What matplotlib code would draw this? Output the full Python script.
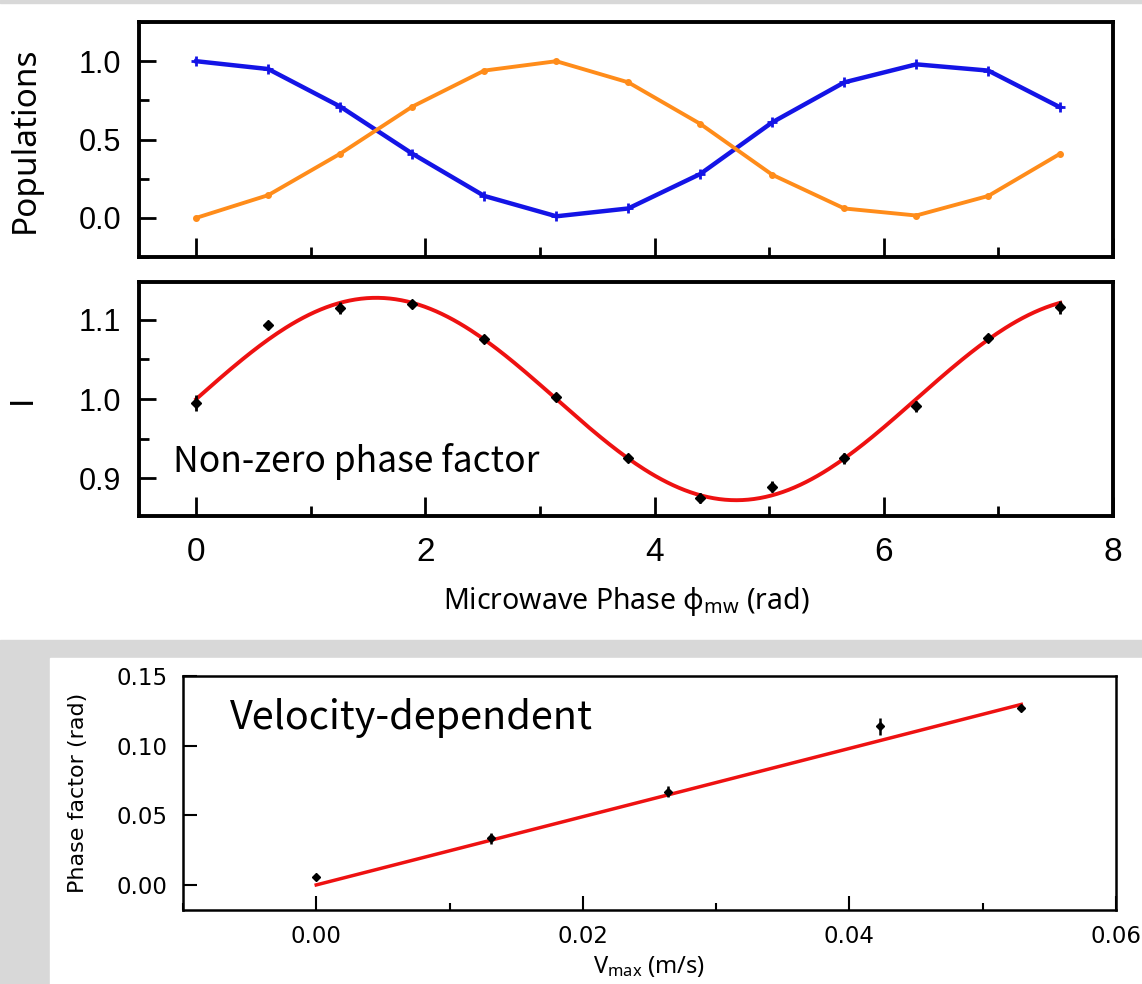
import numpy as np
import matplotlib
matplotlib.use("Agg")
import matplotlib.pyplot as plt
from matplotlib import font_manager
from matplotlib.patches import Rectangle
from matplotlib.ticker import MultipleLocator

plt.rcParams['mathtext.fontset'] = 'custom'
plt.rcParams['mathtext.rm'] = 'Noto Sans'
plt.rcParams['mathtext.it'] = 'Noto Sans'

# microwave phase scan (13 steps of pi/5)
phase = [0.0, 0.628, 1.257, 1.885, 2.513, 3.142, 3.770, 4.398, 5.027, 5.655, 6.283, 6.912, 7.540]
pop_blue = [1.00, 0.95, 0.71, 0.41, 0.14, 0.01, 0.06, 0.28, 0.61, 0.865, 0.98, 0.94, 0.705]
pop_orange = [0.00, 0.145, 0.41, 0.71, 0.94, 1.00, 0.865, 0.60, 0.275, 0.06, 0.015, 0.14, 0.41]
intensity = [0.995, 1.094, 1.115, 1.120, 1.076, 1.003, 0.925, 0.875, 0.889, 0.925, 0.991, 1.077, 1.116]
intensity_err = [0.010, 0.004, 0.008, 0.005, 0.005, 0.005, 0.005, 0.006, 0.007, 0.007, 0.007, 0.005, 0.008]
# sinusoidal fit I = offset + amp * sin(phi)
fit_offset = 1.0
fit_amp = 0.128

# phase factor vs max velocity
vmax = [0.0, 0.0131, 0.0264, 0.0423, 0.0529]
phase_factor = [0.006, 0.0336, 0.067, 0.114, 0.127]
phase_factor_err = [0.002, 0.004, 0.004, 0.006, 0.002]
slope = 2.45

installed = {f.name for f in font_manager.fontManager.ttflist}
narrow = 'Liberation Sans Narrow' if 'Liberation Sans Narrow' in installed else 'Liberation Sans'

fig = plt.figure(figsize=(11.42, 9.84), dpi=100)

# grey backdrop behind the lower panel
fig.patches.append(Rectangle((0, 0), 1, 1 - 640 / 984, transform=fig.transFigure,
                             color='#d8d8d8', zorder=-2))
fig.patches.append(Rectangle((50 / 1142, 0), 1, 1 - 658 / 984, transform=fig.transFigure,
                             color='white', zorder=-1))
fig.patches.append(Rectangle((0, 1 - 3 / 984), 1, 3 / 984, transform=fig.transFigure,
                             color='#d8d8d8', zorder=-1))

ax1 = fig.add_axes([0.1217, 0.7388, 0.8529, 0.2388])
ax2 = fig.add_axes([0.1217, 0.4756, 0.8529, 0.2378])
ax3 = fig.add_axes([0.1602, 0.0752, 0.8170, 0.2378])

# populations
ax1.plot(phase, pop_blue, color='#1414e6', lw=3.2, marker='+', ms=7, mew=2)
ax1.plot(phase, pop_orange, color='#ff8c1a', lw=2.8, marker='o', ms=4)
ax1.set_ylim(-0.25, 1.25)
ax1.set_yticks([0.0, 0.5, 1.0])
ax1.set_yticklabels(['0.0', '0.5', '1.0'])
ax1.yaxis.set_minor_locator(MultipleLocator(0.25))
ax1.set_ylabel('Populations', fontsize=24, family='Noto Sans')
ax1.yaxis.set_label_coords(-0.0996, 0.5)
ax1.tick_params(axis='x', labelbottom=False)

# intensity with fit
phi_fit = np.linspace(0, phase[-1], 300)
ax2.plot(phi_fit, fit_offset + fit_amp * np.sin(phi_fit), color='#ee1111', lw=2.8, zorder=2)
ax2.errorbar(phase, intensity, yerr=intensity_err, fmt='D', color='black', ms=5,
             elinewidth=2, capsize=0, zorder=3)
ax2.set_ylim(0.852, 1.148)
ax2.set_yticks([0.9, 1.0, 1.1])
ax2.set_yticklabels(['0.9', '1.0', '1.1'])
ax2.yaxis.set_minor_locator(MultipleLocator(0.05))
ax2.set_ylabel('I', fontsize=24, family='Liberation Sans')
ax2.yaxis.set_label_coords(-0.104, 0.5)
ax2.set_xlabel('Microwave Phase ϕ$_{\\mathrm{mw}}$ (rad)', fontsize=20.5, family='Noto Sans',
               labelpad=12)
ax2.text(0.035, 0.235, 'Non-zero phase factor', transform=ax2.transAxes, fontsize=25.5,
         family='Noto Sans CJK SC', va='center')

for ax in (ax1, ax2):
    ax.set_xlim(-0.5, 8)
    ax.set_xticks([0, 2, 4, 6, 8])
    ax.xaxis.set_minor_locator(MultipleLocator(1))
    ax.tick_params(which='major', direction='in', length=14, width=2)
    ax.tick_params(which='minor', direction='in', length=7, width=2)
    ax.tick_params(axis='x', labelsize=24, pad=15)
    ax.tick_params(axis='y', which='major', length=12, labelsize=22, pad=13)
    ax.tick_params(axis='y', which='minor', length=7)
    for label in ax.get_xticklabels() + ax.get_yticklabels():
        label.set_family(narrow)
    for s in ax.spines.values():
        s.set_linewidth(2.8)

# phase factor vs velocity
v_fit = np.array([0.0, vmax[-1]])
ax3.plot(v_fit, slope * v_fit, color='#ee1111', lw=2.5, zorder=2)
ax3.errorbar(vmax, phase_factor, yerr=phase_factor_err, fmt='D', color='black', ms=4,
             elinewidth=1.8, capsize=0, zorder=3)
ax3.set_xlim(-0.01, 0.06)
ax3.set_ylim(-0.018, 0.15)
ax3.set_xticks([0.0, 0.02, 0.04, 0.06])
ax3.set_xticklabels(['0.00', '0.02', '0.04', '0.06'])
ax3.set_yticks([0.0, 0.05, 0.10, 0.15])
ax3.set_yticklabels(['0.00', '0.05', '0.10', '0.15'])
ax3.xaxis.set_minor_locator(MultipleLocator(0.01))
ax3.tick_params(which='major', direction='in', length=10, width=1.5, labelsize=16.5)
ax3.tick_params(axis='x', pad=11)
ax3.tick_params(axis='y', pad=11)
ax3.tick_params(which='minor', direction='in', length=5, width=1.5)
for label in ax3.get_xticklabels() + ax3.get_yticklabels():
    label.set_family('DejaVu Sans')
for s in ax3.spines.values():
    s.set_linewidth(1.8)
ax3.set_ylabel('Phase factor (rad)', fontsize=16, family='DejaVu Sans')
ax3.yaxis.set_label_coords(-0.102, 0.5)
ax3.set_xlabel('V$_{\\mathrm{max}}$ (m/s)', fontsize=17, family='Noto Sans', labelpad=4)
ax3.text(0.05, 0.82, 'Velocity-dependent', transform=ax3.transAxes, fontsize=28.5,
         family='Noto Sans CJK SC', va='center')

fig.savefig('out.png', dpi=100)
